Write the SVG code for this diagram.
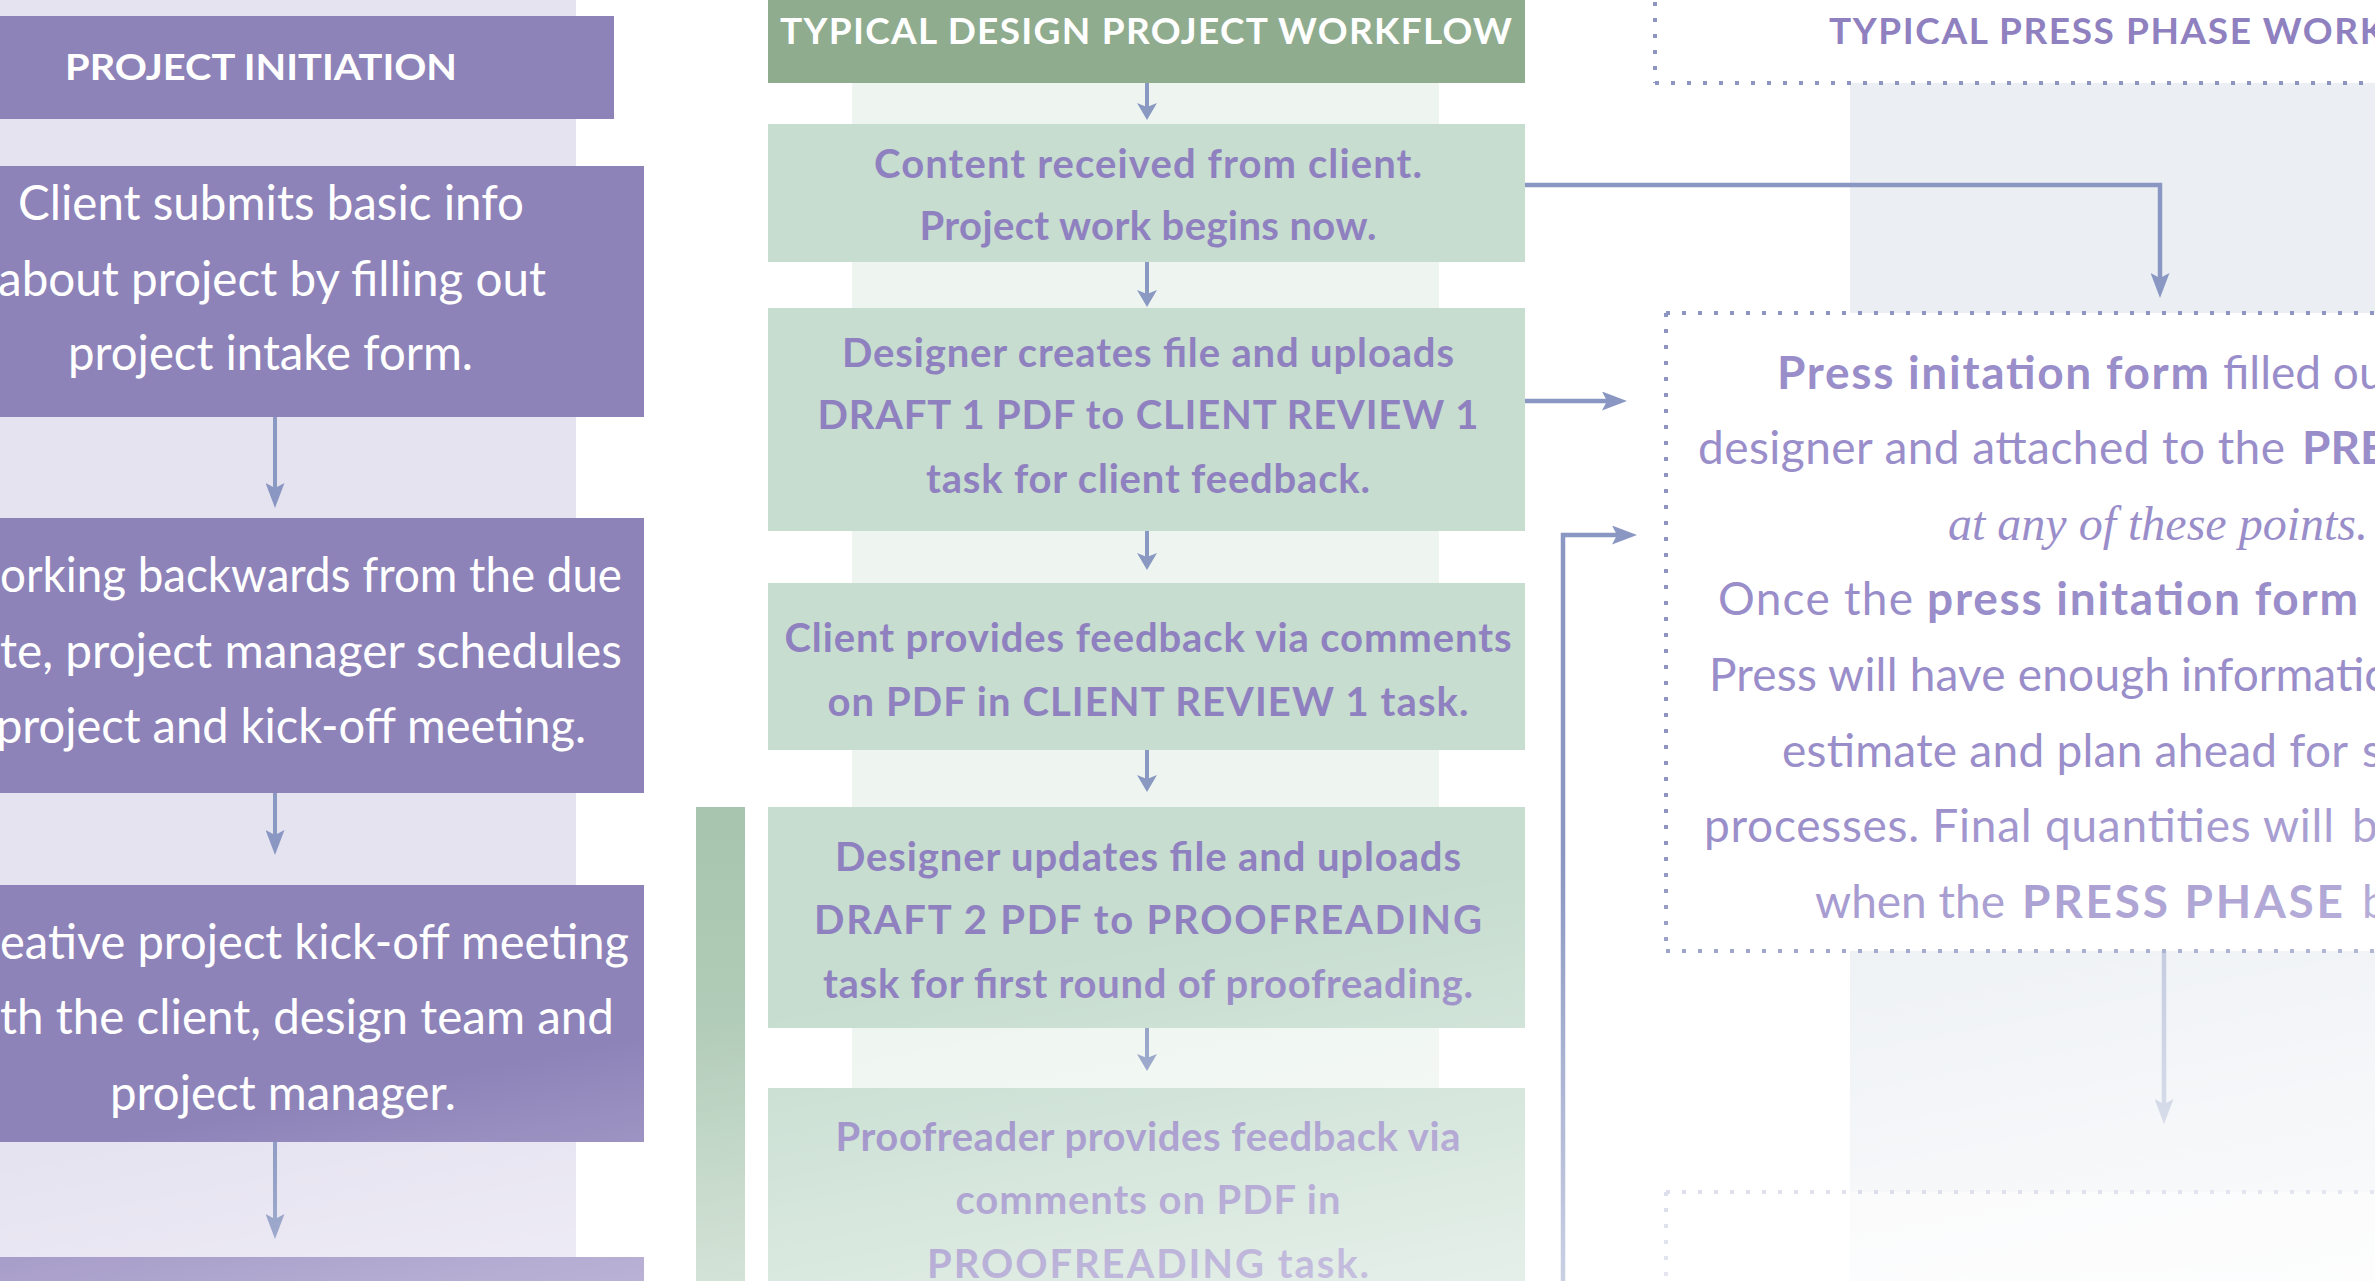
<svg xmlns="http://www.w3.org/2000/svg" width="2375" height="1281" viewBox="0 0 2375 1281">
<defs>
<style>
.lbox{fill:#8e83b9}
.ltxt{font-family:Lato,'Liberation Sans',sans-serif;font-size:48px;fill:#ffffff}
.gbox{fill:#c6ddcf}
.gtxt{font-family:Lato,'Liberation Sans',sans-serif;font-weight:700;font-size:40px;fill:#8f80c0;text-anchor:middle}
.ttl{font-family:Lato,'Liberation Sans',sans-serif;font-weight:700;font-size:37px}
.ptxt{font-family:Lato,'Liberation Sans',sans-serif;font-size:46px;fill:#9a8eca}
.pb{font-weight:700}
.pi{font-family:'Liberation Serif',serif;font-style:italic;font-size:48px;fill:#9a8eca}
.con{stroke:#8a97c2;stroke-width:4.5;fill:none}
.arr{stroke:#8a99c2;stroke-width:4;fill:none}
.dot{stroke:#8e95c0;stroke-width:4;stroke-dasharray:4 12;fill:none}
</style>
<marker id="ah" markerUnits="userSpaceOnUse" markerWidth="25" markerHeight="19" viewBox="0 0 25 19" refX="13" refY="9.5" orient="auto">
<path d="M0,0 L25,9.5 L0,19 L5,9.5 Z" fill="#8a97c2"/>
</marker>
<marker id="am" markerUnits="userSpaceOnUse" markerWidth="17" markerHeight="20" viewBox="0 0 17 20" refX="8" refY="10" orient="auto">
<path d="M0,0 L17,10 L0,20 L4,10 Z" fill="#8a99c2"/>
</marker>
<linearGradient id="fade" gradientUnits="userSpaceOnUse" x1="215" y1="1118" x2="358" y2="1860">
<stop offset="0" stop-color="#ffffff" stop-opacity="0"/>
<stop offset="1" stop-color="#ffffff" stop-opacity="1"/>
</linearGradient>
<linearGradient id="barg" x1="0" y1="0" x2="0" y2="1">
<stop offset="0" stop-color="#a7c5ae"/>
<stop offset="1" stop-color="#bdd4c3"/>
</linearGradient>
</defs>

<g id="backgrounds">
<rect x="0" y="0" width="576" height="1281" fill="#e6e3f1"/>
<rect x="852" y="83" width="587" height="1198" fill="#eef5f0"/>
<rect x="1850" y="83" width="525" height="1198" fill="#ebeff3"/>
<rect x="696" y="807" width="49" height="474" fill="url(#barg)"/>
</g>

<g id="node-project-initiation">
<rect class="lbox" x="0" y="16" width="614" height="103"/>
<text class="ltxt" x="65" y="80" style="font-size:36px;font-weight:700" textLength="392" lengthAdjust="spacingAndGlyphs">PROJECT INITIATION</text>
</g>
<g id="node-client-submits">
<rect class="lbox" x="0" y="166" width="644" height="251"/>
<text class="ltxt" x="18" y="220" textLength="506" lengthAdjust="spacingAndGlyphs">Client submits basic info</text>
<text class="ltxt" x="-2" y="296" textLength="548" lengthAdjust="spacingAndGlyphs">about project by filling out</text>
<text class="ltxt" x="68" y="370" textLength="405" lengthAdjust="spacingAndGlyphs">project intake form.</text>
</g>
<g id="node-working-backwards">
<rect class="lbox" x="0" y="518" width="644" height="275"/>
<text class="ltxt" x="0" y="592" textLength="622" lengthAdjust="spacingAndGlyphs">orking backwards from the due</text>
<text class="ltxt" x="0" y="668" textLength="622" lengthAdjust="spacingAndGlyphs">te, project manager schedules</text>
<text class="ltxt" x="-4" y="743" textLength="590" lengthAdjust="spacingAndGlyphs">project and kick-off meeting.</text>
</g>
<g id="node-kickoff">
<rect class="lbox" x="0" y="885" width="644" height="257"/>
<text class="ltxt" x="0" y="959" textLength="629" lengthAdjust="spacingAndGlyphs">eative project kick-off meeting</text>
<text class="ltxt" x="0" y="1034" textLength="614" lengthAdjust="spacingAndGlyphs">th the client, design team and</text>
<text class="ltxt" x="110" y="1110" textLength="346" lengthAdjust="spacingAndGlyphs">project manager.</text>
</g>
<g id="node-left-bottom">
<rect class="lbox" x="0" y="1257" width="644" height="30" style="fill:#9a8fc2"/>
</g>

<g id="node-design-title">
<rect x="768" y="0" width="757" height="83" fill="#90ac8f"/>
<text class="ttl" x="780" y="44" fill="#ffffff" textLength="732" lengthAdjust="spacing">TYPICAL DESIGN PROJECT WORKFLOW</text>
</g>
<g id="node-content-received">
<rect class="gbox" x="768" y="124" width="757" height="138"/>
<text class="gtxt" x="1148" y="178" textLength="548" lengthAdjust="spacing">Content received from client.</text>
<text class="gtxt" x="1148" y="240" textLength="457" lengthAdjust="spacing">Project work begins now.</text>
</g>
<g id="node-designer-creates">
<rect class="gbox" x="768" y="308" width="757" height="223"/>
<text class="gtxt" x="1148" y="367" textLength="612" lengthAdjust="spacing">Designer creates file and uploads</text>
<text class="gtxt" x="1148" y="429" textLength="661" lengthAdjust="spacing">DRAFT 1 PDF to CLIENT REVIEW 1</text>
<text class="gtxt" x="1148" y="493" textLength="444" lengthAdjust="spacing">task for client feedback.</text>
</g>
<g id="node-client-feedback">
<rect class="gbox" x="768" y="583" width="757" height="167"/>
<text class="gtxt" x="1148" y="652" textLength="727" lengthAdjust="spacing">Client provides feedback via comments</text>
<text class="gtxt" x="1148" y="716" textLength="641" lengthAdjust="spacing">on PDF in CLIENT REVIEW 1 task.</text>
</g>
<g id="node-designer-updates">
<rect class="gbox" x="768" y="807" width="757" height="221"/>
<text class="gtxt" x="1148" y="871" textLength="626" lengthAdjust="spacing">Designer updates file and uploads</text>
<text class="gtxt" x="1148" y="934" textLength="668" lengthAdjust="spacing">DRAFT 2 PDF to PROOFREADING</text>
<text class="gtxt" x="1148" y="998" textLength="650" lengthAdjust="spacing">task for first round of proofreading.</text>
</g>
<g id="node-proofreader">
<rect class="gbox" x="768" y="1088" width="757" height="200"/>
<text class="gtxt" x="1148" y="1151" textLength="625" lengthAdjust="spacing">Proofreader provides feedback via</text>
<text class="gtxt" x="1148" y="1214" textLength="385" lengthAdjust="spacing">comments on PDF in</text>
<text class="gtxt" x="1148" y="1278" textLength="442" lengthAdjust="spacing">PROOFREADING task.</text>
</g>

<g id="node-press-title">
<line class="dot" x1="1655" y1="2" x2="1655" y2="83"/>
<line class="dot" x1="1655" y1="83" x2="2375" y2="83"/>
<text class="ttl" x="1829" y="44" fill="#8f80c0" textLength="556" lengthAdjust="spacing">TYPICAL PRESS PHASE WORK</text>
</g>
<g id="node-press-initiation">
<rect x="1666" y="313" width="709" height="638" fill="#ffffff"/>
<line class="dot" x1="1666" y1="313" x2="2375" y2="313"/>
<line class="dot" x1="1666" y1="313" x2="1666" y2="951"/>
<line class="dot" x1="1666" y1="951" x2="2375" y2="951"/>
<text class="ptxt pb" x="1777" y="389" textLength="432" lengthAdjust="spacing">Press initation form</text>
<text class="ptxt" x="2223" y="389">filled ou</text>
<text class="ptxt" x="1698" y="464" textLength="587" lengthAdjust="spacing">designer and attached to the</text>
<text class="ptxt pb" x="2302" y="464">PRE</text>
<text class="pi" x="1948" y="540" textLength="420" lengthAdjust="spacing">at any of these points.</text>
<text class="ptxt" x="1718" y="615" textLength="195" lengthAdjust="spacing">Once the</text>
<text class="ptxt pb" x="1927" y="615" textLength="431" lengthAdjust="spacing">press initation form</text>
<text class="ptxt" x="1709" y="691" textLength="461" lengthAdjust="spacing">Press will have enough</text>
<text class="ptxt" x="2181" y="691">informatio</text>
<text class="ptxt" x="1782" y="767" textLength="566" lengthAdjust="spacing">estimate and plan ahead for</text>
<text class="ptxt" x="2362" y="767">s</text>
<text class="ptxt" x="1704" y="842" textLength="630" lengthAdjust="spacing">processes. Final quantities will</text>
<text class="ptxt" x="2352" y="842">be</text>
<text class="ptxt" x="1815" y="918" textLength="190" lengthAdjust="spacing">when the</text>
<text class="ptxt pb" x="2022" y="918" textLength="321" lengthAdjust="spacing">PRESS PHASE</text>
<text class="ptxt" x="2362" y="918">b</text>
</g>
<g id="node-press-final" opacity="0.55">
<rect x="1666" y="1192" width="709" height="100" fill="#ffffff"/>
<line class="dot" x1="1666" y1="1192" x2="2375" y2="1192"/>
<line class="dot" x1="1666" y1="1192" x2="1666" y2="1281"/>
</g>

<g id="connectors">
<line class="arr" x1="275" y1="417" x2="275" y2="496" marker-end="url(#ah)"/>
<line class="arr" x1="275" y1="793" x2="275" y2="843" marker-end="url(#ah)"/>
<line class="arr" x1="275" y1="1142" x2="275" y2="1227" marker-end="url(#ah)"/>
<line class="arr" x1="1147" y1="83" x2="1147" y2="111" marker-end="url(#am)"/>
<line class="arr" x1="1147" y1="262" x2="1147" y2="298" marker-end="url(#am)"/>
<line class="arr" x1="1147" y1="531" x2="1147" y2="561" marker-end="url(#am)"/>
<line class="arr" x1="1147" y1="750" x2="1147" y2="783" marker-end="url(#am)"/>
<line class="arr" x1="1147" y1="1028" x2="1147" y2="1062" marker-end="url(#am)"/>
<path class="con" d="M1525,185 H2160 V286" marker-end="url(#ah)"/>
<path class="con" d="M1525,401 H1615" marker-end="url(#ah)"/>
<path class="con" d="M1563,1281 V535 H1625" marker-end="url(#ah)"/>
<path class="con" d="M2164,951 V1112" marker-end="url(#ah)" opacity="0.6"/>
</g>

<rect id="fade-overlay" x="0" y="0" width="2375" height="1281" fill="url(#fade)"/>
</svg>
